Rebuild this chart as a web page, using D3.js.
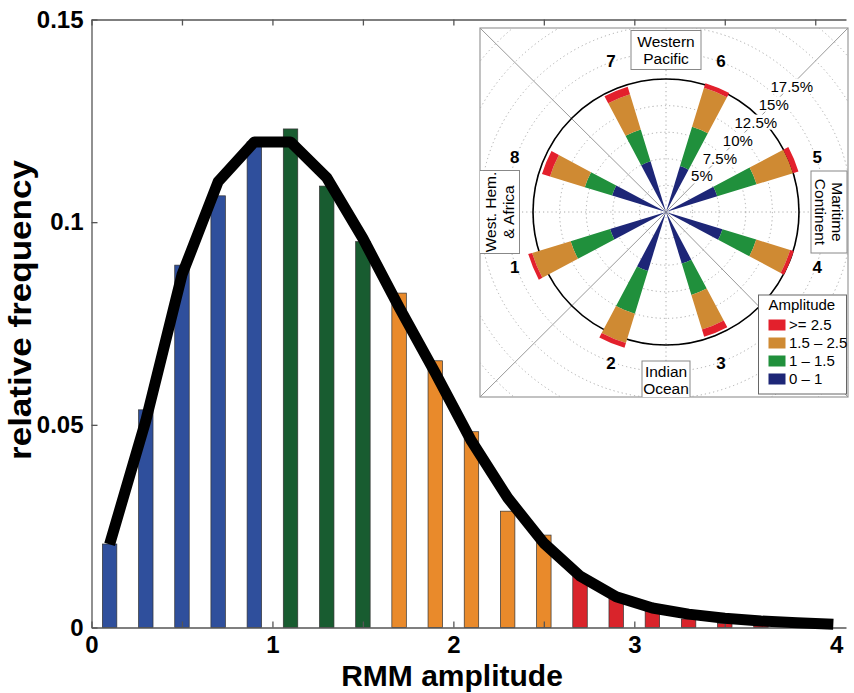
<!DOCTYPE html>
<html><head><meta charset="utf-8">
<script src="https://cdn.jsdelivr.net/npm/d3@7"></script>
<style>
body{margin:0;background:#fff;}
svg{display:block;}
text{font-family:"Liberation Sans",Arial,Helvetica,sans-serif;}
</style></head><body>
<svg id="chart" width="854" height="693"></svg>
<script>
// ---------- main histogram data ----------
const binCenters = [0.1,0.3,0.5,0.7,0.9,1.1,1.3,1.5,1.7,1.9,2.1,2.3,2.5,2.7,2.9,3.1,3.3,3.5,3.7,3.9];
const binFreq    = [0.0206,0.0537,0.0894,0.1065,0.1198,0.1230,0.1089,0.0952,0.0825,0.0658,0.0483,0.0287,0.0228,0.0130,0.0075,0.0040,0.0021,0.0010,0.0004,0.0002];
const binHalfWidthData = 0.1;
const curveX = [0.1,0.3,0.5,0.7,0.9,1.1,1.3,1.5,1.7,1.9,2.1,2.3,2.5,2.7,2.9,3.1,3.3,3.5,3.7,3.9,4.1];
const curveY = [0.0205,0.051,0.087,0.110,0.1198,0.1198,0.111,0.096,0.079,0.0628,0.0460,0.032,0.0208,0.0127,0.0076,0.0048,0.0033,0.0023,0.0016,0.0012,0.0008];
const ampThresholds = [1, 1.5, 2.5];
const ampLabels = ["0 \u2013 1","1 \u2013 1.5","1.5 \u2013 2.5",">= 2.5"];
const xTickValues = [0,0.5,1,1.5,2,2.5,3,3.5,4];
const xTickLabels = ["0","","1","","2","","3","","4"];
const yTickValues = [0,0.05,0.1,0.15];
const yTickLabels = ["0","0.05","0.1","0.15"];

// ---------- polar inset data (percent of days per phase) ----------
const phases = [1,2,3,4,5,6,7,8];
const pctAmp0to1   = [5.50,5.80,5.07,5.55,5.04,4.51,4.98,5.30];
const pctAmp1to15  = [3.87,4.21,3.08,3.32,3.86,3.87,3.13,2.68];
const pctAmp15to25 = [3.79,2.87,3.41,3.33,3.58,3.83,3.46,3.42];
const pctAmpGe25   = [0.38,0.47,0.71,0.36,0.54,0.45,0.75,0.79];
const radialTickValues = [5,7.5,10,12.5,15,17.5];
const radialTickLabels = ["5%","7.5%","10%","12.5%","15%","17.5%"];
const uniformPct = 12.5;
const regionNames = [["Western","Pacific"],["West. Hem.","& Africa"],["Indian","Ocean"],["Maritime","Continent"]];
const regionAngles = [90,180,270,0];

// ---------- styles ----------
const barColors = ["#2f4f9c","#185c30","#e98a2b","#d9242b"];
const polarColors = ["#1d2677","#20903c","#cf8a33","#e3202c"];

const svg = d3.select("#chart");
const x = d3.scaleLinear().domain([0,4.17]).range([91.5,846]);
const y = d3.scaleLinear().domain([0,0.15]).range([627.5,19.5]);
const ampClass = v => d3.bisectRight(ampThresholds, v);

// bars
svg.append("g").selectAll("rect").data(binCenters).join("rect")
  .attr("x", (c)=> x(c-0.04))
  .attr("width", x(0.08)-x(0))
  .attr("y", (c,i)=> y(binFreq[i]))
  .attr("height", (c,i)=> y(0)-y(binFreq[i]))
  .attr("fill", c => barColors[ampClass(c-binHalfWidthData+1e-9)])
  .attr("stroke","#333").attr("stroke-width",0.7);

// axes
const axisColor = "#555";
const gx = svg.append("g").attr("transform",`translate(0,${y(0)})`)
  .call(d3.axisBottom(x).tickValues(xTickValues).tickSize(-6).tickSizeOuter(0).tickPadding(8)
        .tickFormat((d,i)=>xTickLabels[i]));
const gTop = svg.append("g").attr("transform",`translate(0,${y(0.15)})`)
  .call(d3.axisTop(x).tickValues(xTickValues).tickSize(-6).tickSizeOuter(0).tickFormat(""));
const gy = svg.append("g").attr("transform",`translate(${x(0)},0)`)
  .call(d3.axisLeft(y).tickValues(yTickValues).tickSize(-6).tickSizeOuter(0).tickPadding(8)
        .tickFormat((d,i)=>yTickLabels[i]));
[gx,gTop,gy].forEach(g=>{
  g.selectAll("path,line").attr("stroke",axisColor).attr("stroke-width",1.3);
  g.selectAll("text").attr("fill","#000").attr("font-size",24).attr("font-weight","bold")
   .attr("font-family","'Liberation Sans',Arial,sans-serif");
});
gx.selectAll(".tick text").filter(d=>d===4).attr("dx",21);

// curve
svg.append("path").datum(curveX.map((v,i)=>[v,curveY[i]]))
  .attr("d", d3.line().x(d=>x(d[0])).y(d=>y(d[1])))
  .attr("fill","none").attr("stroke","#000").attr("stroke-width",11)
  .attr("stroke-linejoin","round");

// axis titles
svg.append("text").attr("x",452).attr("y",686).attr("text-anchor","middle")
  .attr("font-size",30).attr("font-weight","bold").text("RMM amplitude");
svg.append("text").attr("transform","translate(31,310) rotate(-90)").attr("text-anchor","middle")
  .attr("font-size",32).attr("font-weight","bold")
  .attr("textLength",300).attr("lengthAdjust","spacingAndGlyphs").text("relative frequency");

// ---------- inset ----------
const box = {x0:480, y0:28, x1:848, y1:397};
const cx = 666, cy = 212;
const ins = svg.append("g");
ins.append("rect").attr("x",box.x0).attr("y",box.y0).attr("width",box.x1-box.x0).attr("height",box.y1-box.y0)
  .attr("fill","#fff").attr("stroke","#999").attr("stroke-width",1.2);
svg.append("clipPath").attr("id","boxclip").append("rect")
  .attr("x",box.x0).attr("y",box.y0).attr("width",box.x1-box.x0).attr("height",box.y1-box.y0);
const inner = ins.append("g").attr("clip-path","url(#boxclip)");
const r = d3.scaleLinear().domain([0,uniformPct]).range([0,133]);

// dotted rings
inner.append("g").selectAll("circle").data(d3.range(2.5,27.6,2.5)).join("circle")
  .attr("cx",cx).attr("cy",cy).attr("r",d=>r(d)).attr("fill","none")
  .attr("stroke","#aaa").attr("stroke-width",1).attr("stroke-dasharray","1.2,3");
// dotted axes
inner.append("line").attr("x1",box.x0).attr("x2",box.x1).attr("y1",cy).attr("y2",cy)
  .attr("stroke","#aaa").attr("stroke-dasharray","1.2,3");
inner.append("line").attr("x1",cx).attr("x2",cx).attr("y1",box.y0).attr("y2",box.y1)
  .attr("stroke","#aaa").attr("stroke-dasharray","1.2,3");
// diagonals
[[box.x0,box.y0],[box.x1,box.y0],[box.x0,box.y1],[box.x1,box.y1]].forEach(p=>{
  inner.append("line").attr("x1",p[0]).attr("y1",p[1]).attr("x2",cx).attr("y2",cy)
    .attr("stroke","#999").attr("stroke-width",1);
});
// uniform circle
inner.append("circle").attr("cx",cx).attr("cy",cy).attr("r",r(uniformPct))
  .attr("fill","none").attr("stroke","#000").attr("stroke-width",1.6);

// wedges
const rad = Math.PI/180;
const wedgeHalf = 5.5;
const arc = d3.arc();
const series = [pctAmp0to1,pctAmp1to15,pctAmp15to25,pctAmpGe25];
phases.forEach((ph,i)=>{
  const theta = 202.5 + 45*(ph-1);
  const a = (90 - theta);
  let cum = 0;
  series.forEach((s,k)=>{
    const r0 = r(cum), r1 = r(cum + s[i]);
    cum += s[i];
    inner.append("path").attr("transform",`translate(${cx},${cy})`)
      .attr("d", arc({innerRadius:r0, outerRadius:r1, startAngle:(a-wedgeHalf)*rad, endAngle:(a+wedgeHalf)*rad}))
      .attr("fill", polarColors[k]);
  });
});

// radial tick labels on 45 deg
radialTickValues.forEach((v,i)=>{
  const rr = r(v)*0.955;
  const tx = cx + rr*Math.cos(45*rad), ty = cy - rr*Math.sin(45*rad);
  const t = inner.append("text").attr("x",tx).attr("y",ty).attr("dy","0.36em")
    .attr("text-anchor","middle").attr("font-size",15).text(radialTickLabels[i]);
  const bb = t.node().getBBox();
  inner.insert("rect", () => t.node()).attr("x",bb.x-1).attr("y",bb.y+1).attr("width",bb.width+2).attr("height",bb.height-2)
    .attr("fill","#fff");
});

// phase numbers
phases.forEach(ph=>{
  const c = 202.5 + 45*(ph-1);
  const cm = ((c%90)+90)%90;
  const ang = c + (cm < 45 ? -2.5 : 2.5);
  const rr = 161;
  inner.append("text").attr("x", cx + rr*Math.cos(ang*rad)).attr("y", cy - rr*Math.sin(ang*rad))
    .attr("dy","0.36em").attr("text-anchor","middle").attr("font-size",17).attr("font-weight","bold")
    .text(ph);
});

// region labels
const regionBox = [[70,39],[40,83],[48,38],[36,82]];
const regionR = [162,166.5,168,163];
regionNames.forEach((lines,i)=>{
  const ang = regionAngles[i];
  const px = cx + regionR[i]*Math.cos(ang*rad), py = cy - regionR[i]*Math.sin(ang*rad);
  const rot = ang===180 ? -90 : ang===0 ? 90 : 0;
  const g = inner.append("g").attr("transform",`translate(${px},${py}) rotate(${rot})`);
  const w = rot===0 ? regionBox[i][0] : regionBox[i][1];
  const h = rot===0 ? regionBox[i][1] : regionBox[i][0];
  g.append("rect").attr("x",-w/2).attr("y",-h/2).attr("width",w).attr("height",h)
    .attr("fill","#fff").attr("stroke","#888").attr("stroke-width",1);
  lines.forEach((ln,j)=>{
    g.append("text").attr("x",0).attr("y",(j-0.5)*17.5).attr("dy","0.36em")
      .attr("text-anchor","middle").attr("font-size",15.5).text(ln);
  });
});

// legend
const lg = ins.append("g").attr("transform","translate(758.5,295)");
lg.append("rect").attr("width",88).attr("height",99).attr("fill","#fff").attr("stroke","#666").attr("stroke-width",1);
lg.append("text").attr("x",10).attr("y",10).attr("dy","0.36em").attr("font-size",15).text("Amplitude");
const legendOrder = [3,2,1,0];
legendOrder.forEach((k,j)=>{
  lg.append("rect").attr("x",10).attr("y",24.5+j*18).attr("width",17).attr("height",11).attr("fill",polarColors[k]);
  lg.append("text").attr("x",30.5).attr("y",30+j*18).attr("dy","0.36em").attr("font-size",15).text(ampLabels[k]);
});
</script>
</body></html>
